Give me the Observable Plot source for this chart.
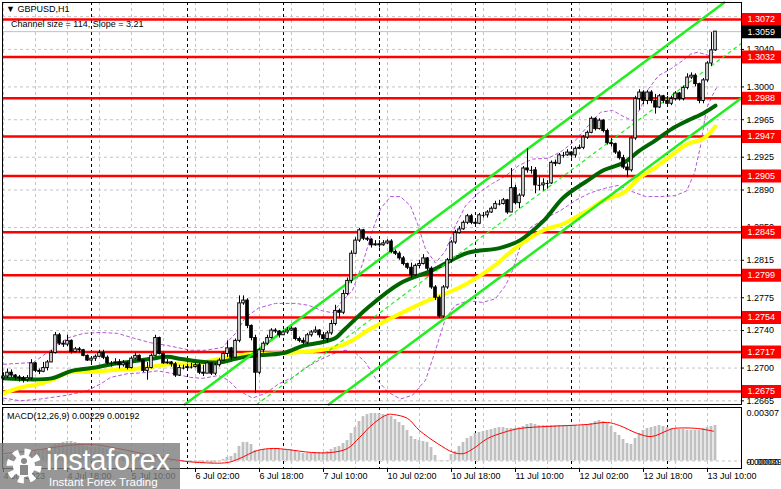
<!DOCTYPE html>
<html>
<head>
<meta charset="utf-8">
<script src="https://cdn.jsdelivr.net/npm/d3@7"></script>
<script src="https://cdn.jsdelivr.net/npm/@observablehq/plot@0.6"></script>
<style>
  html,body{margin:0;padding:0;background:#fff;}
  body{width:781px;height:489px;overflow:hidden;position:relative;font-family:"Liberation Sans",Arial,sans-serif;}
  #chart svg{display:block;}
  .lbl{position:absolute;font-size:9px;color:#000;white-space:nowrap;line-height:1;}
  #logo{position:absolute;left:0;top:443px;width:180px;height:46px;background:rgba(125,125,125,0.8);color:#fff;}
  #logo .big{position:absolute;left:46px;top:2px;font-size:29px;line-height:30px;letter-spacing:-0.2px;}
  #logo .small{position:absolute;left:49px;top:33px;font-size:11.5px;line-height:12px;}
  #logo svg{position:absolute;left:5px;top:4px;}
</style>
</head>
<body>
<div id="chart"></div>
<div class="lbl" style="left:6px;top:5px;">▼ GBPUSD,H1</div>
<div class="lbl" style="left:11px;top:20px;">Channel size = 114, Slope = 3.21</div>
<div class="lbl" style="left:7px;top:412px;">MACD(12,26,9) 0.00229 0.00192</div>
<div id="logo">
  <svg width="38" height="38" viewBox="0 0 38 38">
    <circle cx="19" cy="19" r="14" fill="none" stroke="#fff" stroke-width="7" stroke-dasharray="5.5 5.5"/>
    <circle cx="19" cy="19" r="11" fill="#fff"/>
    <circle cx="19" cy="14" r="3" fill="#8a8a8a"/>
    <rect x="15" y="18" width="8" height="10" fill="#8a8a8a"/>
  </svg>
  <div class="big">instaforex</div>
  <div class="small">Instant Forex Trading</div>
</div>
<script>
// ---------- DATA (prices in units of 0.0001, i.e. price × 10000) ----------
const firstOpen4 = 12689;
const close4 = [
12691,12695,12692,12690,12689,12687,12689,12705,12697,12696,
12700,12706,12716,12735,12726,12725,12729,12717,12720,12719,
12713,12708,12710,12712,12716,12711,12705,12705,12706,12703,
12705,12700,12710,12713,12708,12697,12700,12713,12732,12715,
12705,12706,12704,12692,12700,12700,12701,12701,12703,12695,
12694,12705,12694,12703,12708,12715,12721,12711,12729,12769,
12772,12745,12732,12695,12719,12726,12732,12740,12739,12735,
12738,12740,12742,12731,12729,12727,12735,12738,12740,12735,
12731,12737,12747,12761,12759,12779,12793,12822,12836,12847,
12838,12837,12831,12832,12831,12833,12835,12824,12822,12817,
12811,12807,12799,12809,12811,12817,12806,12786,12775,12755,
12786,12815,12834,12844,12848,12855,12862,12855,12854,12863,
12863,12866,12870,12875,12875,12879,12866,12892,12876,12884,
12913,12911,12911,12895,12895,12897,12897,12919,12918,12927,
12927,12930,12927,12934,12935,12946,12951,12966,12955,12964,
12953,12940,12939,12930,12924,12914,12911,12945,12987,12994,
12985,12994,12985,12978,12990,12985,12982,12987,12993,12987,
12999,13010,13012,13003,12985,13007,13025,13039,13059];
const high4 = [
12695,12699,12698,12693,12692,12691,12692,12709,12706,12699,
12706,12708,12719,12738,12737,12729,12735,12730,12722,12722,
12720,12714,12712,12714,12719,12719,12713,12707,12710,12709,
12708,12707,12712,12716,12714,12709,12706,12715,12735,12733,
12716,12709,12707,12706,12703,12703,12704,12705,12705,12705,
12703,12707,12706,12705,12710,12717,12729,12722,12731,12777,
12777,12774,12746,12735,12721,12728,12735,12742,12742,12740,
12740,12743,12744,12743,12733,12732,12737,12740,12744,12741,
12738,12739,12751,12767,12763,12783,12796,12825,12839,12849,
12848,12840,12838,12836,12836,12836,12837,12837,12826,12824,
12819,12812,12812,12811,12815,12821,12818,12808,12788,12777,
12788,12817,12836,12847,12851,12857,12864,12864,12857,12865,
12866,12868,12872,12878,12879,12881,12880,12913,12895,12886,
12915,12934,12915,12914,12904,12902,12900,12921,12922,12929,
12930,12933,12931,12936,12938,12948,12953,12968,12967,12966,
12965,12955,12945,12940,12932,12927,12918,12947,12990,12997,
12996,12996,12996,12992,12992,12991,12990,12990,12995,12994,
13001,13014,13015,13014,13004,13009,13027,13058,13059];
const low4 = [
12687,12689,12690,12687,12685,12684,12685,12687,12695,12693,
12695,12697,12706,12715,12724,12722,12723,12715,12716,12716,
12712,12707,12706,12707,12711,12709,12703,12701,12703,12699,
12701,12698,12699,12709,12707,12695,12687,12699,12713,12714,
12704,12704,12701,12690,12691,12698,12699,12699,12700,12693,
12691,12695,12692,12692,12701,12708,12711,12708,12710,12727,
12767,12742,12729,12673,12693,12716,12724,12731,12737,12732,
12735,12736,12739,12729,12727,12725,12725,12733,12737,12732,
12729,12727,12735,12745,12753,12757,12777,12790,12821,12834,
12836,12835,12828,12830,12828,12830,12832,12822,12820,12815,
12809,12805,12796,12798,12806,12810,12804,12784,12772,12753,
12753,12784,12812,12832,12843,12847,12853,12853,12852,12853,
12860,12860,12865,12869,12873,12874,12864,12866,12874,12870,
12882,12908,12907,12886,12889,12889,12891,12896,12915,12917,
12924,12926,12924,12924,12933,12933,12944,12950,12953,12954,
12951,12938,12936,12928,12922,12912,12903,12909,12943,12975,
12981,12981,12982,12971,12977,12982,12979,12980,12985,12985,
12985,12997,13008,13000,12982,12982,13005,13022,13038];

// moving averages: [bar, price×10000]
const maFast = [[0,12689],[12,12689],[17,12697],[22,12700],[27,12704],[32,12707],[37,12710],[41,12712],[44,12710],[47,12708],[54,12706],[58,12710],[62,12713],[70,12716],[75,12724],[79,12727],[83,12732],[85,12740],[91,12764],[99,12790],[107,12804],[116,12823],[124,12828],[129,12836],[135,12857],[140,12882],[146,12900],[150,12911],[155,12919],[159,12932],[163,12943],[167,12955],[171,12964],[175,12972],[178,12980]];
const maSlow = [[0,12673],[4,12679],[9,12683],[12,12687],[16,12695],[22,12696],[28,12698],[35,12700],[41,12704],[47,12704],[54,12710],[62,12715],[70,12716],[79,12719],[83,12722],[87,12729],[91,12740],[94,12747],[106,12772],[114,12786],[122,12807],[128,12828],[135,12847],[140,12854],[146,12868],[150,12879],[155,12887],[159,12903],[163,12914],[167,12927],[171,12939],[175,12945],[178,12958]];
const bandUpper = [[0,12704],[7.5,12706],[11.75,12719],[16,12732],[20,12737],[24.25,12738],[28.5,12737],[32.5,12732],[36.75,12727],[41,12724],[46.75,12719],[50.5,12719],[54.75,12722],[58,12737],[60.5,12754],[63.75,12764],[68,12769],[73,12769],[76.25,12767],[79.75,12761],[82.25,12759],[84.75,12772],[87.25,12783],[89.75,12811],[92.25,12847],[94.25,12870],[96.75,12883],[99.25,12883],[101.75,12873],[103.5,12854],[105.5,12827],[108,12812],[110.5,12825],[113,12852],[115.5,12873],[118.75,12887],[122.25,12897],[125.5,12905],[128.75,12916],[132.25,12923],[136.25,12924],[139.75,12932],[143,12943],[146.25,12959],[149.25,12973],[152.25,12975],[154.75,12969],[157.25,12964],[159.25,12977],[161.25,12998],[163.75,13012],[166.75,13019],[169.75,13028],[171.75,13035],[173.5,13037],[175.25,13035],[176.75,13033],[178.25,13041]];
const bandLower = [[0,12668],[4.25,12665],[9.25,12667],[16,12671],[21,12676],[24.25,12683],[26.75,12690],[31,12694],[35,12695],[38.5,12697],[42.5,12694],[46.75,12690],[49.75,12689],[53.75,12692],[56.25,12687],[58.75,12676],[62.25,12668],[65.5,12673],[68.75,12683],[72.25,12690],[75.5,12700],[78.75,12708],[82.25,12715],[85.5,12719],[88,12716],[90.5,12706],[93,12689],[96.25,12674],[99.25,12667],[102.25,12671],[105.5,12687],[108,12719],[110.5,12753],[113,12767],[116.25,12772],[119.75,12770],[123,12774],[125.5,12788],[127.25,12804],[129.25,12831],[131.75,12850],[135.5,12860],[139.25,12868],[143,12879],[146.75,12887],[150.5,12892],[153.75,12895],[156.75,12889],[160.5,12883],[164.25,12883],[168,12884],[170.75,12889],[172.75,12908],[174.25,12937],[175.75,12977],[177.25,12991],[178.25,12999]];
// regression channel (bar, price)
const channelUpper = [[45.3,1.26611],[180.2,1.30901]];
const channelMid   = [[63.3,1.26611],[184.5,1.30465]];
const channelLower = [[81.3,1.26611],[184.5,1.29883]];

const levels = [1.3072,1.3032,1.2988,1.2947,1.2905,1.2845,1.2799,1.2754,1.2717,1.2675];
const priceGrid = [1.3075,1.3040,1.3000,1.2965,1.2925,1.2890,1.2850,1.2815,1.2775,1.2740,1.2700,1.2665];
const priceTickLabels = [1.3040,1.3000,1.2965,1.2925,1.2890,1.2850,1.2815,1.2775,1.2740,1.2700,1.2665];
const lastPrice = 1.3059;

// MACD histogram (×1e-5) per bar, signal line points [bar, ×1e-5]
const macdHist = [
29,36,36,36,36,29,29,55,61,61,
74,81,94,107,113,120,126,126,120,113,
100,94,87,87,87,81,74,68,61,55,
48,42,42,42,36,29,23,29,42,36,
23,16,10,-3,-3,-3,-3,-10,-10,-10,
-16,-10,-16,-10,-3,10,23,29,48,94,
120,120,107,68,68,74,74,81,81,74,
74,68,68,61,55,48,48,48,55,55,
55,61,74,87,94,113,132,178,216,255,
287,300,307,307,305,300,294,287,268,249,
229,197,158,139,132,126,120,87,36,-3,
-3,3,42,61,94,120,145,158,178,184,
191,197,203,210,216,216,210,210,210,216,
223,236,242,236,229,229,229,229,229,229,
229,229,229,229,223,229,236,242,255,262,
255,242,223,184,165,139,113,107,145,178,
197,210,216,223,229,223,216,210,203,203,
203,197,197,197,197,210,216,223,229];
const macdSignal = [[0,48],[7.5,68],[16,100],[22,107],[28.5,81],[37,36],[44,3],[49,-10],[56,-10],[59,16],[63.5,68],[67.5,81],[71,74],[77,55],[82,55],[86,81],[89,152],[92.5,242],[96,300],[97.5,300],[101,275],[104,197],[108.5,113],[112.5,55],[115,48],[117.5,81],[121,145],[125,184],[129,210],[136,223],[141,229],[146,236],[151,249],[154,229],[158.5,178],[162,158],[166,197],[167.5,210],[173.5,210],[177.5,192]];
const macdLabelsTop = ["0.00307"];
const macdLabelsBottom = ["0.00000", "-0.00039"];

// time axis
const xTickIdx = [0,16,32,48,64,80,96,112,128,144,160,176];
const xLabels = ["4 Jul 2023","4 Jul 18:00","5 Jul 10:00","6 Jul 02:00","6 Jul 18:00","7 Jul 10:00","10 Jul 02:00","10 Jul 18:00","11 Jul 10:00","12 Jul 02:00","12 Jul 18:00","13 Jul 10:00"];
const gridIdx = [0,8,16,24,32,40,48,56,64,72,80,88,96,104,112,120,128,136,144,152,160,168,176];
const dayIdx = [22,46,70,94,118,142,166];

// ---------- BUILD ----------
const P = v => v / 1e4;
const candles = close4.map((c, i) => {
  const o = i === 0 ? firstOpen4 : close4[i - 1];
  return {i, open: P(o), close: P(c), high: P(Math.max(high4[i], o, c)), low: P(Math.min(low4[i], o, c))};
});
const xDomain = [-0.25, 184.5];
const font = "Liberation Sans, Arial, sans-serif";
const labelX = 185.75, boxX1 = 184.75, boxX2 = 194.5;
const pl = arr => arr.map(d => ({i: d[0], p: d[1] > 10 ? d[1] / 1e4 : d[1]}));

const mainPlot = Plot.plot({
  width: 781, height: 406,
  marginLeft: 2, marginRight: 40, marginTop: 2, marginBottom: 2,
  x: {domain: xDomain, axis: null},
  y: {domain: [1.26611, 1.30901], axis: null},
  style: {fontFamily: font, fontSize: "9px", background: "#fff", overflow: "visible"},
  marks: [
    Plot.ruleY(priceGrid, {stroke: "#c4c4c4", strokeDasharray: "3,3"}),
    Plot.ruleX(gridIdx, {stroke: "#c4c4c4", strokeDasharray: "3,3"}),
    Plot.ruleX(dayIdx, {stroke: "#000", strokeDasharray: "3,3"}),
    Plot.ruleY([lastPrice], {stroke: "#c0c0c0"}),
    Plot.line(pl(bandUpper), {x: "i", y: "p", stroke: "#b455d8", strokeDasharray: "3,3", strokeWidth: 1}),
    Plot.line(pl(bandLower), {x: "i", y: "p", stroke: "#b455d8", strokeDasharray: "3,3", strokeWidth: 1}),
    Plot.ruleY(levels, {stroke: "#ff0000", strokeWidth: 2.5}),
    Plot.line(pl(maSlow), {x: "i", y: "p", stroke: "#ffff00", strokeWidth: 4, curve: "catmull-rom"}),
    Plot.line(pl(maFast), {x: "i", y: "p", stroke: "#006400", strokeWidth: 4, curve: "catmull-rom"}),
    Plot.line(pl(channelUpper), {x: "i", y: "p", stroke: "#22ee22", strokeWidth: 2.5}),
    Plot.line(pl(channelLower), {x: "i", y: "p", stroke: "#22ee22", strokeWidth: 2.5}),
    Plot.line(pl(channelMid), {x: "i", y: "p", stroke: "#22ee22", strokeWidth: 1.2, strokeDasharray: "3,4"}),
    Plot.ruleX(candles, {x: "i", y1: "low", y2: "high", stroke: "#000", strokeWidth: 1}),
    Plot.rect(candles, {x1: d => d.i - 0.32, x2: d => d.i + 0.32, y1: "open", y2: "close",
      fill: d => d.close < d.open ? "#000" : "#fff", stroke: "#000", strokeWidth: 1}),
    Plot.ruleY(candles.filter(d => d.open === d.close), {y: "close", x1: d => d.i - 0.4, x2: d => d.i + 0.4, stroke: "#000"}),
    Plot.frame({stroke: "#000"}),
    Plot.ruleY(priceGrid, {x1: 184.5, x2: 185.25, stroke: "#000"}),
    Plot.text(priceTickLabels, {x: labelX, y: d => d, text: d => d.toFixed(4), textAnchor: "start", fill: "#000", fontSize: 9}),
    Plot.ruleY(levels, {x1: boxX1, x2: boxX2, stroke: "#ff0000", strokeWidth: 13}),
    Plot.text(levels, {x: labelX + 0.25, y: d => d, text: d => d.toFixed(4), textAnchor: "start", fill: "#fff", fontSize: 9}),
    Plot.ruleY([lastPrice], {x1: boxX1, x2: boxX2, stroke: "#000", strokeWidth: 13}),
    Plot.text([lastPrice], {x: labelX + 0.25, y: d => d, text: d => d.toFixed(4), textAnchor: "start", fill: "#fff", fontSize: 9})
  ]
});

const macdPlot = Plot.plot({
  width: 781, height: 83,
  marginLeft: 2, marginRight: 40, marginTop: 1, marginBottom: 21,
  x: {domain: xDomain, axis: null},
  y: {domain: [-0.000485, 0.003456], axis: null},
  style: {fontFamily: font, fontSize: "9px", background: "#fff", overflow: "visible"},
  marks: [
    Plot.ruleX(gridIdx, {stroke: "#c4c4c4", strokeDasharray: "3,3"}),
    Plot.ruleX(dayIdx, {stroke: "#000", strokeDasharray: "3,3"}),
    Plot.ruleY([0], {stroke: "#c4c4c4", strokeDasharray: "3,3"}),
    Plot.rect(macdHist, {x1: (d, i) => i - 0.35, x2: (d, i) => i + 0.35, y1: 0, y2: d => d * 1e-5, fill: "#c0c0c0"}),
    Plot.line(macdSignal, {x: d => d[0], y: d => d[1] * 1e-5, stroke: "#ff0000", strokeWidth: 1, curve: "catmull-rom"}),
    Plot.frame({stroke: "#000"}),
    Plot.text(macdLabelsTop, {x: labelX, y: d => +d, text: d => d, textAnchor: "start", fill: "#000", fontSize: 9}),
    Plot.text(macdLabelsBottom, {x: labelX, y: -0.0001, text: d => d, textAnchor: "start", fill: "#000", fontSize: 9}),
    Plot.ruleX(xTickIdx, {y1: -0.000485, y2: -0.000485 - 0.00026, stroke: "#000"}),
    Plot.text(xLabels, {x: (d, i) => xTickIdx[i], frameAnchor: "bottom", dy: 10, text: d => d, textAnchor: "start", fill: "#000", fontSize: 9})
  ]
});

const chart = document.getElementById("chart");
chart.appendChild(mainPlot);
chart.appendChild(macdPlot);
</script>
</body>
</html>
